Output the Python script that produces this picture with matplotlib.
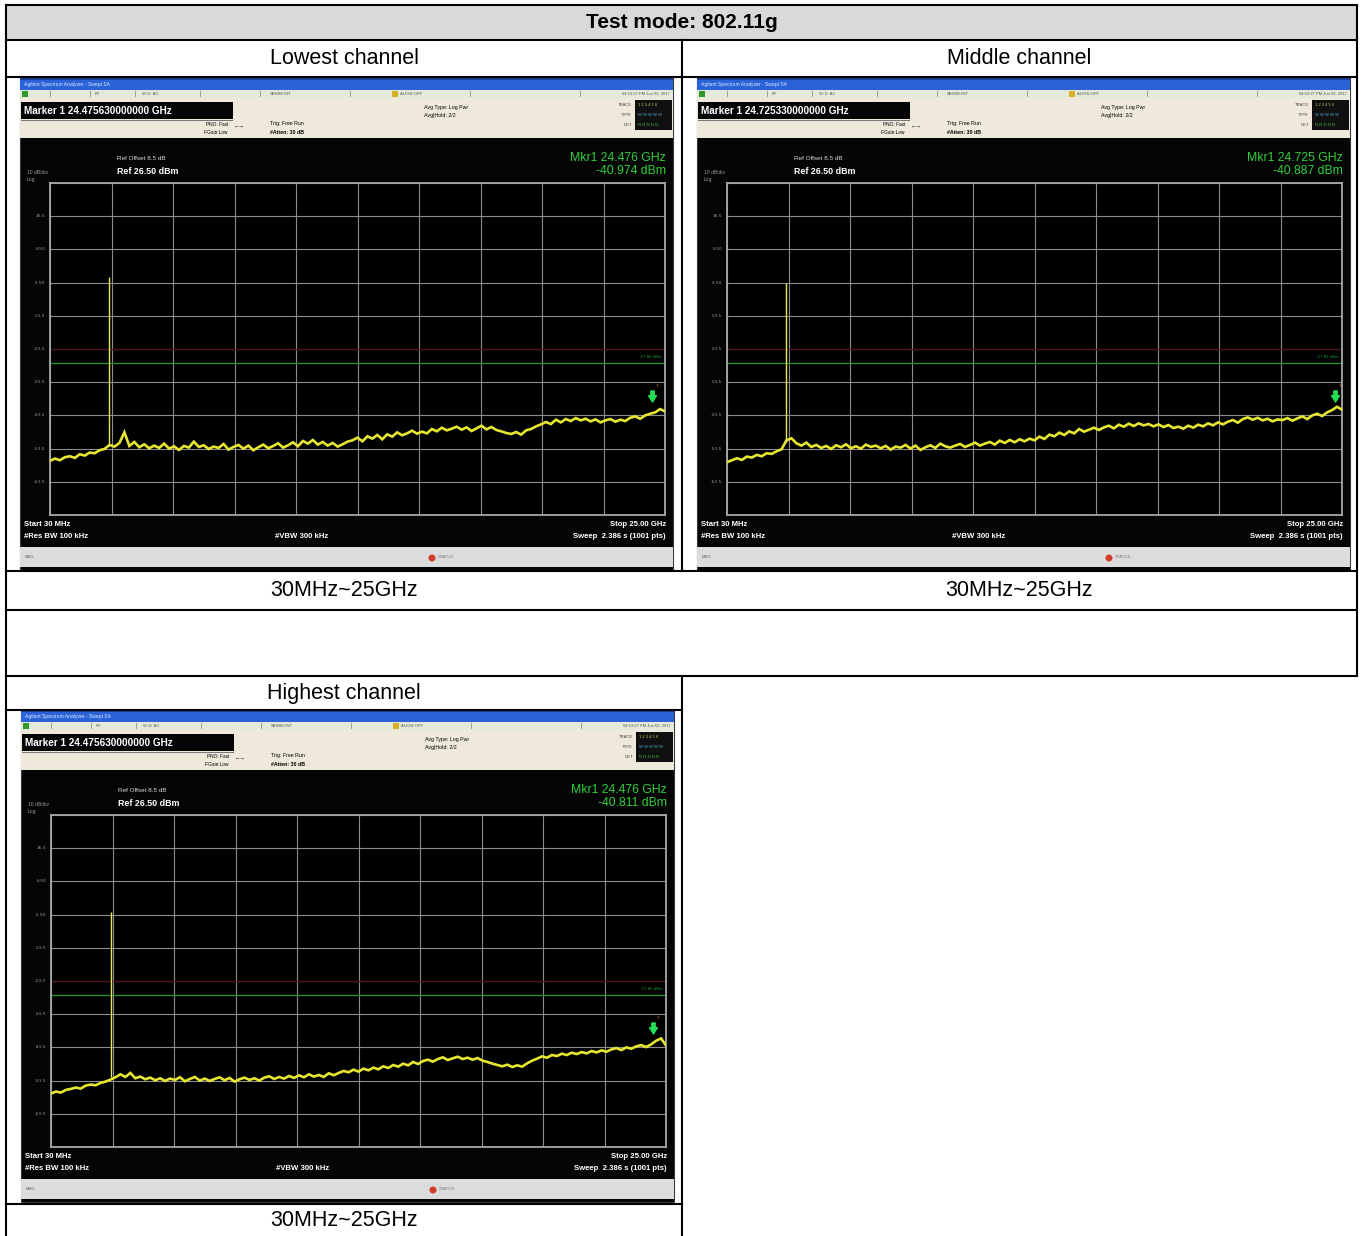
import numpy as np
import matplotlib
matplotlib.use("Agg")
import matplotlib.pyplot as plt
from matplotlib.patches import Rectangle, Circle
import matplotlib.transforms as mtransforms

# ---------------- data ----------------
title_text = "Test mode: 802.11g"
channel_names = ["Lowest channel", "Middle channel", "Highest channel"]
range_label = "30MHz~25GHz"

ref_level_dbm = 26.5
db_per_div = 10.0
start_ghz = 0.03
stop_ghz = 25.0
display_line_dbm = -27.86
display_line_text = "-27.86 dBm"
ytick_labels = ["16.5", "6.50", "-3.50", "-13.5", "-23.5", "-33.5", "-43.5", "-53.5", "-63.5"]

marker_readout = ["Marker 1 24.475630000000 GHz", "Marker 1 24.725330000000 GHz", "Marker 1 24.475630000000 GHz"]
mkr_freq_text = ["Mkr1 24.476 GHz", "Mkr1 24.725 GHz", "Mkr1 24.476 GHz"]
mkr_level_text = ["-40.974 dBm", "-40.887 dBm", "-40.811 dBm"]
mkr_freq_ghz = [24.476, 24.725, 24.476]
mkr_level_dbm = [-40.974, -40.887, -40.811]

spike_ghz = [2.412, 2.437, 2.462]
spike_peak_dbm = [-1.8, -3.6, -2.6]
spike_base_dbm = [-52.6, -51.4, -52.4]

trace_low = [
    -57.2, -56.5, -57.0, -56.1, -55.8, -56.3, -55.2, -55.6, -54.7, -54.9, -54.0, -53.6,
    -52.4, -52.9, -51.8, -48.6, -52.7, -51.5,
    -53.1, -52.2, -53.4, -52.6, -53.3, -52.0, -53.5, -52.8, -53.9, -52.7, -53.2, -51.4, -53.0,
    -52.5, -53.6, -52.9, -53.3, -52.1, -53.8, -53.0, -52.4, -53.5, -52.6, -54.0, -53.1, -52.3, -53.4, -52.7,
    -51.9, -53.2, -52.5, -51.6, -52.8, -51.2, -52.0, -50.9, -52.3, -51.5, -52.6, -51.8, -52.9, -52.2, -51.4,
    -51.0, -50.2, -51.3, -49.8, -50.5, -49.4, -50.7, -49.2, -49.9, -48.6, -49.5, -48.9, -48.1, -49.0, -48.4,
    -48.9, -47.6, -48.3, -47.2, -48.0, -47.5, -46.9, -47.8, -47.1, -48.2, -47.4, -46.6, -47.7, -47.0, -47.9,
    -48.3, -48.8, -49.1, -48.5, -49.3, -48.0, -47.6, -46.8, -46.2, -45.5, -46.1, -44.8, -45.6, -44.6, -45.2,
    -44.3, -45.0, -44.5, -45.3, -44.7, -45.6, -45.0, -44.6, -45.4, -44.8, -45.2, -44.2, -43.8, -44.5, -43.5,
    -43.0, -42.6, -41.6, -42.3,
]
trace_mid = [
    -57.6, -57.0, -56.4, -56.9, -55.9, -56.2, -55.4, -55.8, -54.9, -55.1, -54.3, -53.7,
    -51.0, -50.4, -51.9, -52.6, -51.7, -53.0,
    -52.4, -53.3, -52.7, -53.6, -52.5, -53.1, -52.2, -53.4, -52.8, -53.5, -52.3, -53.0, -52.6,
    -53.4, -52.7, -53.8, -52.9, -53.2, -52.4, -53.5, -52.6, -53.9, -53.1, -52.5, -53.3, -52.0, -52.8, -53.2,
    -52.6, -52.1, -53.0, -52.4, -51.7, -52.6, -52.0, -51.5, -52.3, -51.1, -51.8, -50.9, -51.6, -50.7, -51.3,
    -50.5, -51.0, -49.9, -50.6, -49.3, -49.8, -48.7, -49.4, -48.3, -48.9, -47.6, -48.4, -47.8, -47.2, -47.9,
    -47.1, -46.6, -47.4, -46.3, -46.9, -46.0, -46.7, -45.9, -46.5, -46.1, -46.8, -46.2, -47.0, -46.4, -47.3,
    -46.9, -47.5, -46.6, -47.2, -46.3, -46.8, -45.9, -46.5, -45.6, -46.2, -45.4, -44.9, -45.7, -44.6, -44.1,
    -44.8, -44.2, -45.0, -44.5, -45.3, -44.7, -44.9, -44.3, -45.1, -44.4, -43.8, -44.6, -43.5, -43.0, -43.7,
    -42.6, -41.9, -40.9, -41.8,
]
trace_high = [
    -57.4, -56.8, -57.1, -56.3, -56.0, -55.6, -55.9, -55.0, -54.7, -54.9, -54.2, -53.8,
    -53.2, -52.5, -51.6, -52.4, -51.2, -52.8,
    -52.3, -53.1, -52.6, -53.4, -52.8, -53.6, -52.9, -53.3, -52.5, -53.7, -53.0, -52.4, -53.5,
    -52.9, -53.6, -53.0, -52.5, -53.4, -52.7, -53.8, -53.1, -52.6, -53.3, -52.8, -53.5, -52.6, -52.2, -53.0,
    -52.4, -52.9, -52.1, -52.7, -51.9, -52.5, -51.6, -52.3, -51.8, -52.4, -51.3, -51.9, -51.2, -50.6, -51.0,
    -50.2, -50.8, -49.9, -50.4, -49.6, -50.1, -49.2, -49.7, -48.8, -49.3, -48.4, -48.9, -47.9, -48.5, -47.6,
    -47.2, -47.8, -47.0, -46.5, -47.3, -46.8, -46.3, -47.0, -46.6, -47.2, -46.7, -47.5, -47.9, -48.4, -48.8,
    -49.2, -48.7, -49.4, -48.9, -49.3, -48.3, -47.5, -46.9, -46.2, -46.6, -45.8, -46.1, -45.4, -45.8, -45.1,
    -45.5, -44.9, -45.3, -44.6, -45.0, -44.4, -44.8, -44.1, -43.7, -44.3, -43.5, -43.9, -43.2, -42.8, -43.4,
    -42.6, -41.5, -40.8, -42.9,
]
traces = [trace_low, trace_mid, trace_high]

# ---------------- layout ----------------
W, H = 1363, 1236
DPI = 100
fig = plt.figure(figsize=(W / DPI, H / DPI), dpi=DPI)
fig.patch.set_facecolor("white")

bg = fig.add_axes([0, 0, 1, 1])
bg.set_xlim(0, W)
bg.set_ylim(H, 0)
bg.axis("off")

TABLE_FONT = ["Liberation Sans", "DejaVu Sans"]
SA_FONT = ["Liberation Sans", "DejaVu Sans"]
LW = 1.5

# header fill
bg.add_patch(Rectangle((6, 5), 1351, 35, facecolor="#d9d9d9", edgecolor="none", zorder=0))

def hline(y, x0, x1):
    bg.plot([x0, x1], [y, y], color="black", lw=LW, solid_capstyle="projecting", zorder=5)

def vline(x, y0, y1):
    bg.plot([x, x], [y0, y1], color="black", lw=LW, solid_capstyle="projecting", zorder=5)

for y in (5, 40, 77, 571, 610, 676):
    hline(y, 6, 1357)
for y in (710, 1204):
    hline(y, 6, 682)
vline(6, 5, 1236)
vline(1357, 5, 676)
vline(682, 40, 571)
vline(682, 676, 1236)

bg.text(681.5, 23, title_text, ha="center", va="center", fontsize=15, fontweight="bold", family=TABLE_FONT)
bg.text(344, 59, channel_names[0], ha="center", va="center", fontsize=15.5, family=TABLE_FONT)
bg.text(1019.5, 59, channel_names[1], ha="center", va="center", fontsize=15.5, family=TABLE_FONT)
bg.text(344, 591, range_label, ha="center", va="center", fontsize=15.5, family=TABLE_FONT)
bg.text(1019.5, 591, range_label, ha="center", va="center", fontsize=15.5, family=TABLE_FONT)
bg.text(344, 694, channel_names[2], ha="center", va="center", fontsize=15.5, family=TABLE_FONT)
bg.text(344, 1221, range_label, ha="center", va="center", fontsize=15.5, family=TABLE_FONT)

screen_origins = [(20, 78), (697, 78), (21, 710)]
SW, SH = 653, 492
PLOT_REL = (30, 105, 645, 437)  # x0, y0, x1, y1 relative to screen

arrow_marker = [(-0.3, 1.0), (0.3, 1.0), (0.3, 0.15), (0.7, 0.15), (0.0, -1.0),
                (-0.7, 0.15), (-0.3, 0.15), (-0.3, 1.0)]


def draw_screen(k):
    sx, sy = screen_origins[k]

    def R(x, y, w, h, fc, ec="none", lw=0, z=1):
        bg.add_patch(Rectangle((sx + x, sy + y), w, h, facecolor=fc, edgecolor=ec, lw=lw, zorder=z))

    def T(x, y, s, size=4.5, color="black", ha="left", weight="normal", z=3):
        bg.text(sx + x, sy + y, s, fontsize=size, color=color, ha=ha, va="center",
                fontweight=weight, family=SA_FONT, zorder=z)

    # frame
    R(0, 0, SW, SH, "#050505", ec="#3a3a3a", lw=0.8)
    # title bar
    R(0, 0, SW, 12, "#2a62d8")
    R(0, 0, SW, 2, "#1a3f9a")
    T(4, 6.5, "Agilent Spectrum Analyzer - Swept SA", size=3.6, color="#dfe9ff")
    # status bar
    R(0, 12, SW, 8, "#e4eadb")
    R(2, 13, 6, 6, "#2f9a2a")
    for xx in (30, 70, 115, 180, 240, 330, 450, 560):
        R(xx, 13, 0.8, 6, "#a0a0a0", z=2)
    T(75, 16, "RF", size=3.0, color="#555555")
    T(122, 16, "50 Ω  AC", size=3.0, color="#555555")
    T(250, 16, "SENSE:INT", size=3.0, color="#555555")
    T(380, 16, "ALIGN OFF", size=3.0, color="#555555")
    R(372, 13, 6, 6, "#d8b020", z=2)
    T(650, 16, "04:53:27 PM Jun 02, 2017", size=3.0, color="#555555", ha="right")
    # beige panel
    R(0, 20, SW, 40, "#efe9dc")
    R(1, 24, 212, 17, "#050505", z=2)
    T(4, 32.5, marker_readout[k], size=7.2, color="white", weight="bold")
    R(1, 42, 212, 0.8, "#777777", z=2)
    T(208, 47, "PNO: Fast", size=3.4, ha="right")
    T(208, 54, "IFGain:Low", size=3.4, ha="right")
    T(214, 48, "←→", size=4, color="#333333")
    T(250, 46, "Trig: Free Run", size=3.8)
    T(250, 54, "#Atten: 30 dB", size=3.8, weight="bold")
    T(404, 29, "Avg Type: Log Pwr", size=3.8)
    T(404, 37, "Avg|Hold: 2/2", size=3.8)
    T(612, 27, "TRACE", size=3.0, ha="right", color="#444444")
    T(612, 37, "TYPE", size=3.0, ha="right", color="#444444")
    T(612, 47, "DET", size=3.0, ha="right", color="#444444")
    R(615, 22, 37, 30, "#101010", z=2)
    T(618, 27, "1 2 3 4 5 6", size=3.0, color="#c8c850")
    T(618, 37, "W W W W W", size=3.0, color="#4aa0d0")
    T(618, 47, "N N N N N", size=3.0, color="#40b040")
    # reference texts
    T(97, 81, "Ref Offset 8.5 dB", size=4.6, color="#d8d8d8")
    T(97, 93, "Ref 26.50 dBm", size=6.4, color="white", weight="bold")
    T(7, 95, "10 dB/div", size=3.6, color="#9a9a9a")
    T(7, 102, "Log", size=3.6, color="#9a9a9a")
    T(646, 80, mkr_freq_text[k], size=8.8, color="#2fd03a", ha="right")
    T(646, 93, mkr_level_text[k], size=8.8, color="#2fd03a", ha="right")
    # footer texts
    T(4, 446, "Start 30 MHz", size=5.6, color="white", weight="bold")
    T(4, 458, "#Res BW 100 kHz", size=5.6, color="white", weight="bold")
    T(255, 458, "#VBW 300 kHz", size=5.6, color="white", weight="bold")
    T(646, 446, "Stop 25.00 GHz", size=5.6, color="white", weight="bold", ha="right")
    T(646, 458, "Sweep  2.386 s (1001 pts)", size=5.6, color="white", weight="bold", ha="right")
    # bottom status bar
    R(0, 469, SW, 20, "#dcdcdc")
    T(5, 479, "MSG", size=3.0, color="#555555")
    bg.add_patch(Circle((sx + 412, sy + 480), 3.5, facecolor="#d23a2a", edgecolor="none", zorder=3))
    T(418, 479, "STATUS", size=3.0, color="#777777")

    # plot area
    x0, y0, x1, y1 = PLOT_REL
    ax = fig.add_axes([(sx + x0) / W, 1 - (sy + y1) / H, (x1 - x0) / W, (y1 - y0) / H])
    ax.set_facecolor("black")
    ymax = ref_level_dbm
    ymin = ref_level_dbm - 10 * db_per_div
    ax.set_xlim(start_ghz, stop_ghz)
    ax.set_ylim(ymin, ymax)
    ax.set_xticks(np.linspace(start_ghz, stop_ghz, 11))
    ax.set_yticks(np.linspace(ymin, ymax, 11))
    ax.tick_params(length=0, labelbottom=False, labelleft=False)
    ax.grid(True, color="#8c8c8c", lw=0.8)
    ax.set_axisbelow(True)
    for sp in ax.spines.values():
        sp.set_color("#a8a8a8")
        sp.set_linewidth(1.3)
    ytr = mtransforms.blended_transform_factory(ax.transAxes, ax.transData)
    for i, lab in enumerate(ytick_labels):
        yv = ymax - (i + 1) * db_per_div
        ax.text(-0.008, yv, lab, transform=ytr, ha="right", va="center", fontsize=3.2,
                color="#9a9a9a", clip_on=False)
    # faint limit line
    ax.axhline(-23.5, color="#4a1818", lw=0.9, zorder=1)
    # display line
    ax.axhline(display_line_dbm, color="#1d9a2a", lw=0.9, zorder=2)
    ax.text(0.995, display_line_dbm + 1.4, display_line_text, transform=ytr, ha="right",
            va="bottom", fontsize=2.8, color="#1d9a2a")
    # trace
    tr = traces[k]
    freqs = np.linspace(start_ghz, stop_ghz, len(tr))
    ax.plot(freqs, tr, color="#e6e630", lw=1.9, zorder=4, solid_joinstyle="miter")
    ax.vlines(spike_ghz[k], spike_base_dbm[k], spike_peak_dbm[k], color="#e8e85a", lw=1.0, zorder=4)
    # marker
    ax.plot([mkr_freq_ghz[k]], [mkr_level_dbm[k] + 3.2], marker=arrow_marker, color="#22dd55",
            ms=8, mec="#22dd55", zorder=6, clip_on=False)
    ax.text(mkr_freq_ghz[k] + 0.15, mkr_level_dbm[k] + 6.0, "1", fontsize=3.2, color="#e07030", zorder=6)


for k in range(3):
    draw_screen(k)

fig.savefig("out.png", dpi=DPI, facecolor="white")
